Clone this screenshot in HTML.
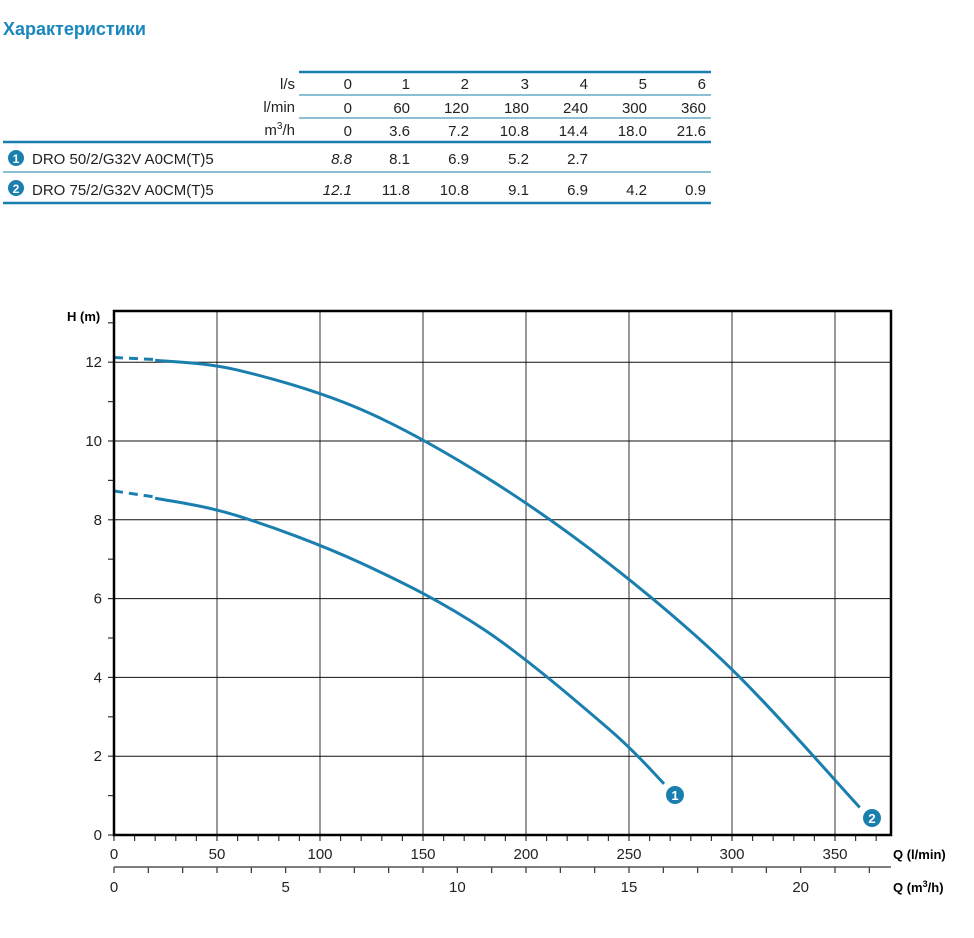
<!DOCTYPE html>
<html><head><meta charset="utf-8"><style>
body{margin:0;background:#fff;width:974px;height:933px;overflow:hidden;font-family:"Liberation Sans",sans-serif}
</style></head><body>
<svg width="974" height="933" xmlns="http://www.w3.org/2000/svg" font-family="Liberation Sans, sans-serif">
<text x="3" y="35" font-size="18" font-weight="bold" fill="#1a87bf">Характеристики</text>
<g font-size="15" fill="#222" text-anchor="end">
<line x1="299" y1="72" x2="711" y2="72" stroke="#1a7fae" stroke-width="2.5"/>
<line x1="299" y1="95" x2="711" y2="95" stroke="#1a7fae" stroke-width="1"/>
<line x1="299" y1="118" x2="711" y2="118" stroke="#1a7fae" stroke-width="1"/>
<line x1="3" y1="142" x2="711" y2="142" stroke="#1a7fae" stroke-width="2.5"/>
<line x1="3" y1="172" x2="711" y2="172" stroke="#1a7fae" stroke-width="1"/>
<line x1="3" y1="203" x2="711" y2="203" stroke="#1a7fae" stroke-width="2.5"/>
<text x="295" y="89">l/s</text><text x="295" y="112">l/min</text><text x="295" y="135">m<tspan font-size="10" dy="-6">3</tspan><tspan dy="6">/h</tspan></text>
<g id="r1"><text x="352" y="89">0</text><text x="410" y="89">1</text><text x="469" y="89">2</text><text x="529" y="89">3</text><text x="588" y="89">4</text><text x="647" y="89">5</text><text x="706" y="89">6</text></g>
<text x="352" y="113">0</text><text x="410" y="113">60</text><text x="469" y="113">120</text><text x="529" y="113">180</text><text x="588" y="113">240</text><text x="647" y="113">300</text><text x="706" y="113">360</text>
<text x="352" y="136">0</text><text x="410" y="136">3.6</text><text x="469" y="136">7.2</text><text x="529" y="136">10.8</text><text x="588" y="136">14.4</text><text x="647" y="136">18.0</text><text x="706" y="136">21.6</text>
<text x="352" y="164" font-style="italic">8.8</text><text x="410" y="164">8.1</text><text x="469" y="164">6.9</text><text x="529" y="164">5.2</text><text x="588" y="164">2.7</text>
<text x="352" y="195" font-style="italic">12.1</text><text x="410" y="195">11.8</text><text x="469" y="195">10.8</text><text x="529" y="195">9.1</text><text x="588" y="195">6.9</text><text x="647" y="195">4.2</text><text x="706" y="195">0.9</text>
<g text-anchor="start"><text x="32" y="164">DRO 50/2/G32V A0CM(T)5</text><text x="32" y="195">DRO 75/2/G32V A0CM(T)5</text></g>
<circle cx="16" cy="158" r="8" fill="#1a7fae"/><text x="16" y="163" font-size="12" font-weight="bold" fill="#fff" text-anchor="middle">1</text>
<circle cx="16" cy="188" r="8" fill="#1a7fae"/><text x="16" y="193" font-size="12" font-weight="bold" fill="#fff" text-anchor="middle">2</text>
</g>
<g id="grid"></g>
<path id="c1" fill="none" stroke="#1a7fae" stroke-width="3"/>
<path id="c2" fill="none" stroke="#1a7fae" stroke-width="3"/>
<line x1="114" y1="491" x2="155" y2="497" stroke="#1a7fae" stroke-width="3" stroke-dasharray="9,6"/>
<line x1="114" y1="357.5" x2="155" y2="359.5" stroke="#1a7fae" stroke-width="3" stroke-dasharray="9,6"/>
<circle cx="675" cy="795" r="9" fill="#1a7fae"/><text x="675" y="800" font-size="13" font-weight="bold" fill="#fff" text-anchor="middle">1</text>
<circle cx="872" cy="818" r="9" fill="#1a7fae"/><text x="872" y="823" font-size="13" font-weight="bold" fill="#fff" text-anchor="middle">2</text>
<rect x="114" y="311" width="777" height="524" fill="none" stroke="#000" stroke-width="2.5"/>
<text x="67" y="321" font-size="13" font-weight="bold">H (m)</text>
<g font-size="13" font-weight="bold"><text x="893" y="859">Q (l/min)</text><text x="893" y="892">Q (m<tspan font-size="9" dy="-5">3</tspan><tspan dy="5">/h)</tspan></text></g>
<line x1="114" y1="867" x2="891" y2="867" stroke="#555" stroke-width="1.5"/>
</svg>
<script>
var ns="http://www.w3.org/2000/svg",g=document.getElementById('grid');
function X(q){return 114+q*2.06}function Y(h){return 835-h*39.4}
function el(t,a,p){var e=document.createElementNS(ns,t);for(var k in a)e.setAttribute(k,a[k]);if(p!==undefined)e.textContent=String(p);g.appendChild(e);return e}
for(var q=50;q<=350;q+=50)el('line',{x1:X(q),y1:311,x2:X(q),y2:835,stroke:'#555','stroke-width':1.2});
for(var h=2;h<=12;h+=2)el('line',{x1:114,y1:Y(h),x2:891,y2:Y(h),stroke:'#111','stroke-width':1});
for(var h=0;h<=13;h++)el('line',{x1:108,y1:Y(h),x2:114,y2:Y(h),stroke:'#333','stroke-width':1.2});
for(var h=0;h<=12;h+=2)el('text',{x:102,y:Y(h)+5,'font-size':15,'text-anchor':'end',fill:'#222'},h);
for(var q=0;q<=370;q+=10)el('line',{x1:X(q),y1:835,x2:X(q),y2:841,stroke:'#333','stroke-width':1.2});
for(var q=0;q<=350;q+=50)el('text',{x:X(q),y:859,'font-size':15,'text-anchor':'middle',fill:'#222'},q);
for(var m=0;m<=22;m++){var x=114+m*1000/60*2.06;el('line',{x1:x,y1:867,x2:x,y2:873,stroke:'#333','stroke-width':1.2});if(m%5==0)el('text',{x:x,y:892,'font-size':15,'text-anchor':'middle',fill:'#222'},m);}
function cr(pts){var P=pts.map(function(p){return[X(p[0]),Y(p[1])]});var d='M'+P[0][0]+','+P[0][1];
for(var i=0;i<P.length-1;i++){var p0=P[i-1]||P[i],p1=P[i],p2=P[i+1],p3=P[i+2]||P[i+1];
d+=' C'+(p1[0]+(p2[0]-p0[0])/6)+','+(p1[1]+(p2[1]-p0[1])/6)+' '+(p2[0]-(p3[0]-p1[0])/6)+','+(p2[1]-(p3[1]-p1[1])/6)+' '+p2[0]+','+p2[1];}return d}
document.getElementById('c1').setAttribute('d',cr([[20,8.55],[60,8.1],[120,6.9],[180,5.2],[240,2.7],[267,1.3]]));
document.getElementById('c2').setAttribute('d',cr([[20,12.05],[60,11.8],[120,10.8],[180,9.1],[240,6.9],[300,4.2],[362,0.7]]));
</script>
</body></html>
